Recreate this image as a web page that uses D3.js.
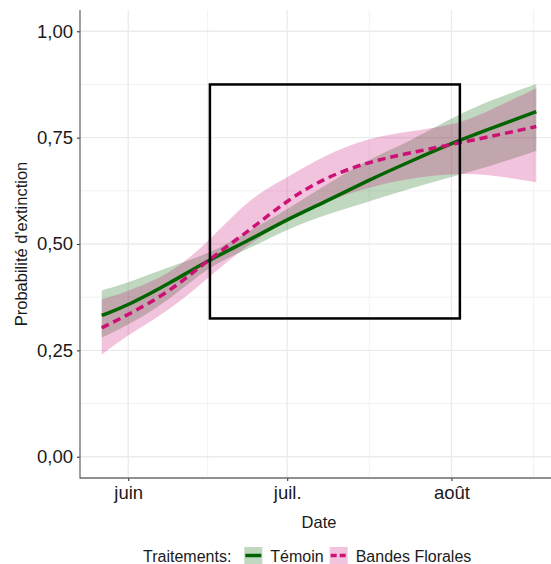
<!DOCTYPE html>
<html>
<head>
<meta charset="utf-8">
<style>
body {
    margin: 0;
    background: white;
}
text {
    font-family: "Liberation Sans", Arial, sans-serif;
}
</style>
</head>
<body>
<svg id="chart" width="551" height="564"></svg>
<script src="https://d3js.org/d3.v7.min.js"></script>
<script>
    // values (probability of extinction)
    const dates = ["2020-05-27", "2020-06-01", "2020-06-09", "2020-06-16", "2020-06-24", "2020-07-01",
                   "2020-07-08", "2020-07-16", "2020-07-24", "2020-08-03", "2020-08-10", "2020-08-17"];
    const temoin_fit  = [0.332, 0.356, 0.409, 0.461, 0.510, 0.558, 0.598, 0.648, 0.693, 0.747, 0.779, 0.811];
    const temoin_low  = [0.280, 0.309, 0.370, 0.447, 0.490, 0.535, 0.568, 0.598, 0.630, 0.664, 0.690, 0.719];
    const temoin_high = [0.391, 0.409, 0.448, 0.475, 0.531, 0.582, 0.636, 0.698, 0.740, 0.810, 0.845, 0.876];
    const bandes_fit  = [0.303, 0.334, 0.389, 0.462, 0.533, 0.603, 0.655, 0.692, 0.714, 0.739, 0.757, 0.776];
    const bandes_low  = [0.240, 0.287, 0.346, 0.420, 0.503, 0.556, 0.600, 0.632, 0.655, 0.668, 0.660, 0.645];
    const bandes_high = [0.370, 0.389, 0.430, 0.503, 0.610, 0.656, 0.708, 0.748, 0.765, 0.782, 0.825, 0.866];

    const series_names = ["Témoin", "Bandes Florales"];
    const series_colors = ["#006400", "#CD1076"];

    const x_ticks = ["2020-06-01", "2020-07-01", "2020-08-01"];
    const x_labels = ["juin", "juil.", "août"];
    const x_minor = ["2020-06-16", "2020-07-16T12:00", "2020-08-16T12:00"];
    const y_ticks = [0, 0.25, 0.5, 0.75, 1];
    const y_labels = ["0,00", "0,25", "0,50", "0,75", "1,00"];
    const y_minor = [0.125, 0.375, 0.625, 0.875];

    // the highlighted window
    const box_dates = ["2020-06-16T10:00", "2020-08-02T14:00"];
    const box_values = [0.325, 0.875];

    const svg = d3.select("#chart");
    const panel = {left: 80, right: 558, top: 10, bottom: 478};
    const parse = d3.utcParse("%Y-%m-%d");
    const parse_any = s => parse(s) || d3.isoParse(s + "Z");

    var date_objs = dates.map(parse_any);
    var extent = d3.extent(date_objs);
    var span = extent[1] - extent[0];
    const x = d3.scaleUtc()
        .domain([new Date(+extent[0] - span*0.05), new Date(+extent[1] + span*0.05)])
        .range([panel.left, panel.right]);
    const y = d3.scaleLinear()
        .domain([-0.05, 1.05])
        .range([panel.bottom, panel.top]);

    var series = [
        {name: series_names[0], color: series_colors[0], fit: temoin_fit, low: temoin_low, high: temoin_high, dash: null},
        {name: series_names[1], color: series_colors[1], fit: bandes_fit, low: bandes_low, high: bandes_high, dash: "8,5"}
    ];
    series.forEach(s => {
        s.points = date_objs.map((d, i) => ({date: d, fit: s.fit[i], low: s.low[i], high: s.high[i]}));
    });

    drawGrid();
    drawRibbons();
    drawLines();
    drawAxes();
    drawBox();
    drawLegend();

    function drawGrid(){
        var grid = svg.append("g");
        grid.selectAll("line.y-minor")
            .data(y_minor)
            .enter()
            .append("line")
            .attr("x1", panel.left).attr("x2", panel.right)
            .attr("y1", d => y(d)).attr("y2", d => y(d))
            .style("stroke", "#f2f2f2")
            .style("stroke-width", 1);
        grid.selectAll("line.x-minor")
            .data(x_minor.map(parse_any))
            .enter()
            .append("line")
            .attr("x1", d => x(d)).attr("x2", d => x(d))
            .attr("y1", panel.top).attr("y2", panel.bottom)
            .style("stroke", "#f2f2f2")
            .style("stroke-width", 1);
        grid.selectAll("line.y-major")
            .data(y_ticks)
            .enter()
            .append("line")
            .attr("x1", panel.left).attr("x2", panel.right)
            .attr("y1", d => y(d)).attr("y2", d => y(d))
            .style("stroke", "#ebebeb")
            .style("stroke-width", 1.3);
        grid.selectAll("line.x-major")
            .data(x_ticks.map(parse_any))
            .enter()
            .append("line")
            .attr("x1", d => x(d)).attr("x2", d => x(d))
            .attr("y1", panel.top).attr("y2", panel.bottom)
            .style("stroke", "#ebebeb")
            .style("stroke-width", 1.3);
    }

    function drawRibbons(){
        var area = d3.area()
            .x(d => x(d.date))
            .y0(d => y(d.low))
            .y1(d => y(d.high))
            .curve(d3.curveBasis);
        svg.selectAll("path.ribbon")
            .data(series)
            .enter()
            .append("path")
            .attr("d", d => area(d.points))
            .style("fill", d => d.color)
            .style("fill-opacity", 0.25)
            .style("stroke", "none");
    }

    function drawLines(){
        var line = d3.line()
            .x(d => x(d.date))
            .y(d => y(d.fit))
            .curve(d3.curveBasis);
        svg.selectAll("path.fit")
            .data(series)
            .enter()
            .append("path")
            .attr("d", d => line(d.points))
            .style("fill", "none")
            .style("stroke", d => d.color)
            .style("stroke-width", 3.5)
            .style("stroke-dasharray", d => d.dash);
    }

    function drawAxes(){
        var y_axis = svg.append("g")
            .attr("transform", "translate(" + panel.left + ",0)")
            .call(d3.axisLeft(y).tickValues(y_ticks).tickSize(3).tickPadding(4)
                .tickFormat((d, i) => y_labels[i]));
        var x_axis = svg.append("g")
            .attr("transform", "translate(0," + panel.bottom + ")")
            .call(d3.axisBottom(x).tickValues(x_ticks.map(parse_any)).tickSize(3).tickPadding(5)
                .tickFormat((d, i) => x_labels[i]));
        [y_axis, x_axis].forEach(a => {
            a.select(".domain").remove();
            a.selectAll(".tick line").style("stroke", "#333").style("stroke-width", 1.1);
            a.selectAll(".tick text")
                .style("font-size", "18.5px")
                .style("fill", "#1a1a1a")
                .style("font-family", "Liberation Sans, Arial, sans-serif");
        });
        // axis lines, left and bottom only
        svg.append("line")
            .attr("x1", panel.left).attr("x2", panel.left)
            .attr("y1", panel.top).attr("y2", panel.bottom + 0.6)
            .style("stroke", "#6b6b6b").style("stroke-width", 1.3);
        svg.append("line")
            .attr("x1", panel.left).attr("x2", panel.right)
            .attr("y1", panel.bottom).attr("y2", panel.bottom)
            .style("stroke", "#6b6b6b").style("stroke-width", 1.3);

        svg.append("text")
            .attr("transform", "translate(27," + (panel.top + panel.bottom)/2 + ") rotate(-90)")
            .attr("text-anchor", "middle")
            .style("font-size", "16.5px")
            .style("fill", "#1a1a1a")
            .text("Probabilité d'extinction");
        svg.append("text")
            .attr("x", (panel.left + panel.right)/2)
            .attr("y", 528)
            .attr("text-anchor", "middle")
            .style("font-size", "16.5px")
            .style("fill", "#1a1a1a")
            .text("Date");
    }

    function drawBox(){
        svg.append("rect")
            .attr("x", x(parse_any(box_dates[0])))
            .attr("y", y(box_values[1]))
            .attr("width", x(parse_any(box_dates[1])) - x(parse_any(box_dates[0])))
            .attr("height", y(box_values[0]) - y(box_values[1]))
            .style("fill", "none")
            .style("stroke", "black")
            .style("stroke-width", 2.5);
    }

    function drawLegend(){
        var legend = svg.append("g");
        var cursor = 143;
        var base_y = 562;
        var title = legend.append("text")
            .attr("x", cursor).attr("y", base_y)
            .style("font-size", "16px")
            .style("fill", "#1a1a1a")
            .text("Traitements:");
        cursor += title.node().getComputedTextLength() + 13;

        series.forEach(s => {
            var key = legend.append("g").attr("transform", "translate(" + cursor + "," + (base_y - 15) + ")");
            key.append("rect")
                .attr("width", 18).attr("height", 17)
                .style("fill", s.color).style("fill-opacity", 0.25);
            key.append("line")
                .attr("x1", 1).attr("x2", 17)
                .attr("y1", 8.5).attr("y2", 8.5)
                .style("stroke", s.color)
                .style("stroke-width", 3.5)
                .style("stroke-dasharray", s.dash ? "6,3" : null);
            cursor += 18 + 8;
            var label = legend.append("text")
                .attr("x", cursor).attr("y", base_y)
                .style("font-size", "16px")
                .style("fill", "#1a1a1a")
                .text(s.name);
            cursor += label.node().getComputedTextLength() + 6;
        });
    }
</script>
</body>
</html>
